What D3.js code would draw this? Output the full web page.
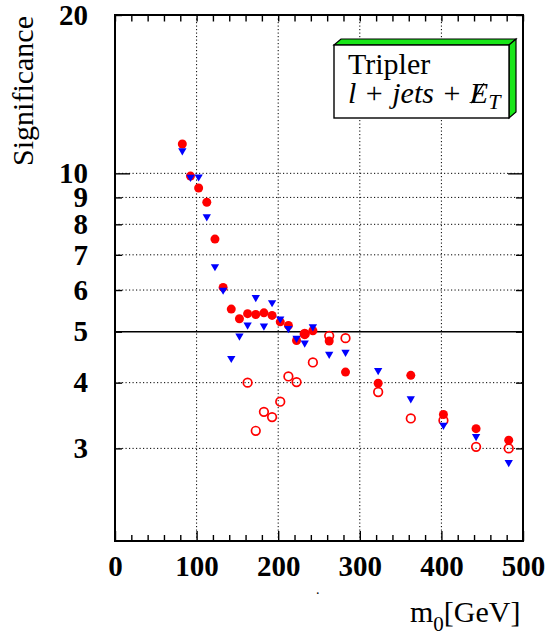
<!DOCTYPE html>
<html>
<head>
<meta charset="utf-8">
<script src="https://cdn.jsdelivr.net/npm/d3@7"></script>
<style>
  html, body { margin: 0; padding: 0; background: #fff; }
  svg { display: block; }
</style>
</head>
<body>
<svg id="chart" width="549" height="631"></svg>
<script>
// ---- data ----
const m0 = [82.5, 92.5, 102.5, 112.5, 122.5, 132.5, 142.5, 152.5, 162.5, 172.5, 182.5, 192.5,
            202.5, 212.5, 222.5, 232.5, 242.5, 262.5, 282.5, 322.5, 362.5, 402.5, 442.5, 482.5];
const sigFilled = [11.37, 9.88, 9.38, 8.81, 7.50, 6.07, 5.52, 5.29, 5.41, 5.39, 5.43, 5.37,
                   5.22, 5.14, 4.81, 4.95, 5.02, 4.80, 4.19, 3.99, 4.13, 3.48, 3.27, 3.11];
const sigTriangle = [11.04, 9.83, 9.85, 8.27, 6.65, 6.00, 4.45, 4.91, 5.15, 5.81, 5.13, 5.68,
                     5.29, 5.07, 4.86, 4.76, 5.11, 4.53, 4.57, 4.22, 3.73, 3.32, 3.16, 2.82];
const m0Open = [162.5, 172.5, 182.5, 192.5, 202.5, 212.5, 222.5, 232.5, 242.5, 262.5, 282.5,
                322.5, 362.5, 402.5, 442.5, 482.5];
const sigOpen = [4.00, 3.24, 3.52, 3.44, 3.68, 4.11, 4.01, 4.95, 4.37, 4.91, 4.86,
                 3.84, 3.42, 3.39, 3.02, 3.00];
const xTickLabels = [0, 100, 200, 300, 400, 500];
const xGrid = [100, 200, 300, 400];
const yTickLabels = [3, 4, 5, 6, 7, 8, 9, 10, 20];
const yGrid = [3, 4, 6, 7, 8, 9, 10];
const refLine = 5;

// ---- layout ----
const L = 115, R = 523, T = 15, B = 541;
const svg = d3.select("#chart");
const x = d3.scaleLinear().domain([0, 500]).range([L, R]);
const y = d3.scaleLog().domain([2, 20]).range([B, T]);
const serif = "'Liberation Serif', 'Times New Roman', serif";

// grid
const grid = svg.append("g").attr("stroke", "#000").attr("stroke-width", 1).attr("stroke-dasharray", "1.2,2.3");
grid.selectAll("line.gx").data(xGrid).join("line")
  .attr("x1", d => x(d)).attr("x2", d => x(d)).attr("y1", T).attr("y2", B);
grid.selectAll("line.gy").data(yGrid).join("line")
  .attr("x1", L).attr("x2", R).attr("y1", d => y(d)).attr("y2", d => y(d));

// solid 5-sigma line
svg.append("line").attr("x1", L).attr("x2", R).attr("y1", y(refLine)).attr("y2", y(refLine))
  .attr("stroke", "#000").attr("stroke-width", 1.6);

// axes ticks
function styleAxis(g) { g.select(".domain").remove(); g.selectAll("line").attr("stroke", "#000").attr("stroke-width", 1.4); }
const minorX = d3.range(0, 501, 20).filter(v => v % 100 !== 0);
svg.append("g").attr("transform", `translate(0,${B})`)
  .call(d3.axisBottom(x).tickValues(minorX).tickSize(-6).tickFormat("")).call(styleAxis);
svg.append("g").attr("transform", `translate(0,${B})`)
  .call(d3.axisBottom(x).tickValues(xTickLabels).tickSize(-10).tickPadding(14).tickFormat(d3.format("d")))
  .call(styleAxis)
  .selectAll("text").attr("font-family", serif).attr("font-weight", "bold").attr("font-size", 29).attr("fill", "#000");
svg.append("g").attr("transform", `translate(0,${T})`)
  .call(d3.axisTop(x).tickValues(d3.range(0, 501, 20)).tickSize(-6.5).tickFormat("")).call(styleAxis);

svg.append("g").attr("transform", `translate(${L},0)`)
  .call(d3.axisLeft(y).tickValues(yTickLabels).tickSize(-7).tickPadding(27).tickFormat(d3.format("d")))
  .call(styleAxis)
  .call(g => g.selectAll(".tick").filter(d => d === 10).select("line").attr("x2", 15))
  .selectAll("text").attr("font-family", serif).attr("font-weight", "bold").attr("font-size", 29).attr("fill", "#000");
svg.append("g").attr("transform", `translate(${R},0)`)
  .call(d3.axisRight(y).tickValues(yTickLabels).tickSize(-7).tickFormat("")).call(styleAxis)
  .call(g => g.selectAll(".tick").filter(d => d === 10).select("line").attr("x2", -15));

// frame
svg.append("rect").attr("x", L).attr("y", T).attr("width", R - L).attr("height", B - T)
  .attr("fill", "none").attr("stroke", "#000").attr("stroke-width", 2);

// data markers
const filled = m0.map((m, i) => ({ m, v: sigFilled[i] }));
const tri = m0.map((m, i) => ({ m, v: sigTriangle[i] }));
const open = m0Open.map((m, i) => ({ m, v: sigOpen[i] }));

svg.append("g").selectAll("circle").data(filled).join("circle")
  .attr("cx", d => x(d.m)).attr("cy", d => y(d.v)).attr("r", 4.5).attr("fill", "#ff0000");
svg.append("g").selectAll("circle").data(open).join("circle")
  .attr("cx", d => x(d.m)).attr("cy", d => y(d.v)).attr("r", 4.3)
  .attr("fill", "none").attr("stroke", "#ff0000").attr("stroke-width", 1.7);
const triSym = d3.symbol().type(d3.symbolTriangle).size(30);
svg.append("g").selectAll("path").data(tri).join("path")
  .attr("d", triSym).attr("fill", "#0000ff")
  .attr("transform", d => `translate(${x(d.m)},${y(d.v)}) rotate(180)`);

// legend box (3D)
const lb = svg.append("g");
const bx0 = 334, by0 = 45, bx1 = 509, by1 = 118, dx = 7, dy = 6;
const green = "#19e619";
lb.append("polygon").attr("points", `${bx0},${by0} ${bx0 + dx},${by0 - dy} ${bx1 + dx},${by0 - dy} ${bx1},${by0}`)
  .attr("fill", green).attr("stroke", "#000").attr("stroke-width", 1.2);
lb.append("polygon").attr("points", `${bx1},${by0} ${bx1 + dx},${by0 - dy} ${bx1 + dx},${by1 - dy} ${bx1},${by1}`)
  .attr("fill", green).attr("stroke", "#000").attr("stroke-width", 1.2);
lb.append("rect").attr("x", bx0).attr("y", by0).attr("width", bx1 - bx0).attr("height", by1 - by0)
  .attr("fill", "#fff").attr("stroke", "#000").attr("stroke-width", 1.4);
lb.append("text").attr("x", 348).attr("y", 74).attr("font-family", serif).attr("font-size", 30).text("Tripler");
const t2 = lb.append("text").attr("x", 348).attr("y", 103).attr("font-family", serif).attr("font-size", 30)
  .attr("word-spacing", 2);
t2.append("tspan").attr("font-style", "italic").text("l");
t2.append("tspan").text(" + ");
t2.append("tspan").attr("font-style", "italic").text("jets");
t2.append("tspan").text(" + ");
const eSpan = t2.append("tspan").attr("font-style", "italic").text("E");
t2.append("tspan").attr("font-style", "italic").attr("font-size", 22).attr("dy", 6).text("T");
const eb = eSpan.node().getBBox();
lb.append("line")
  .attr("x1", eb.x + eb.width * 0.12).attr("y1", eb.y + eb.height * 0.82)
  .attr("x2", eb.x + eb.width * 0.78).attr("y2", eb.y + eb.height * 0.22)
  .attr("stroke", "#000").attr("stroke-width", 1.3);

// axis titles
svg.append("text").attr("transform", "translate(33,16) rotate(-90)").attr("text-anchor", "end")
  .attr("font-family", serif).attr("font-size", 30).text("Significance");
const xt = svg.append("text").attr("x", 410).attr("y", 622).attr("font-family", serif).attr("font-size", 30);
xt.append("tspan").text("m");
xt.append("tspan").attr("font-size", 21).attr("dy", 9).text("0");
xt.append("tspan").attr("dy", -9).text("[GeV]");
svg.append("text").attr("x", 316).attr("y", 594).attr("font-family", serif).attr("font-size", 14).text(".");
</script>
</body>
</html>
